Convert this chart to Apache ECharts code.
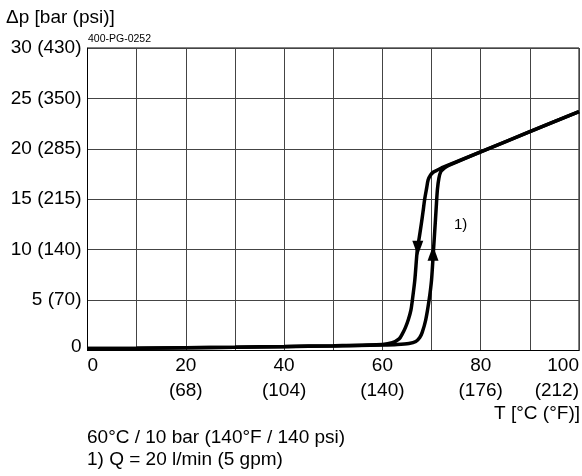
<!DOCTYPE html>
<html>
<head>
<meta charset="utf-8">
<script src="https://cdn.jsdelivr.net/npm/echarts@6/dist/echarts.min.js"></script>
<style>
html,body{margin:0;padding:0;background:#fff;}
#chart{width:582px;height:476px;}
</style>
</head>
<body>
<div id="chart"></div>
<script>
// Temperature ticks (°C) and Fahrenheit labels
const tempTicks = [0, 20, 40, 60, 80, 100];
const tempF = ['', '(68)', '(104)', '(140)', '(176)', '(212)'];
// Pressure ticks (bar) and psi labels
const pressTicks = [0, 5, 10, 15, 20, 25, 30];
const pressPsi = ['', '(70)', '(140)', '(215)', '(285)', '(350)', '(430)'];

// Heating curve (rising, arrow up) [T °C, Δp bar]
const heating = [
  [0, 0.2], [10, 0.22], [20, 0.27], [30, 0.32], [40, 0.38], [50, 0.45], [60, 0.55],
  [63, 0.6], [65.4, 0.7], [66.8, 0.9], [67.6, 1.3], [68.1, 1.8], [68.8, 3.0], [69.5, 5.0],
  [70.0, 7.0], [70.4, 10.0], [70.8, 13.0], [71.0, 14.6], [71.2, 16.0], [71.5, 17.1],
  [71.9, 17.75], [72.6, 18.1], [73.5, 18.35], [80, 19.7], [90, 21.7], [100, 23.7]
];
// Cooling curve (falling, arrow down) [T °C, Δp bar]
const cooling = [
  [100, 23.7], [90, 21.7], [80, 19.7], [72, 18.1], [71.2, 17.9], [70.4, 17.7],
  [69.8, 17.4], [69.3, 16.9], [69.0, 16.1], [68.6, 15.0], [68.25, 13.7], [67.9, 12.5],
  [67.5, 11.2], [67.1, 10.0], [66.6, 7.0], [66.1, 5.0], [65.8, 4.0], [65.3, 3.1],
  [64.7, 2.3], [64.0, 1.6], [63.4, 1.15], [62.0, 0.77], [60, 0.6], [50, 0.48], [40, 0.4],
  [30, 0.33], [20, 0.27], [10, 0.22], [0, 0.2]
];
// Direction arrows [T, Δp]
const arrowDown = [67.2, 10.15];
const arrowUp = [70.3, 9.65];
// Curve annotation
const noteLabel = { text: '1)', at: [75.9, 12.5] };

const FONT = "'Liberation Sans', Arial, sans-serif";

const chart = echarts.init(document.getElementById('chart'), null, {renderer: 'canvas'});
chart.setOption({
  backgroundColor: '#fff',
  animation: false,
  textStyle: {fontFamily: FONT},
  grid: {left: 87.5, right: 2, top: 48, bottom: 125.5, show: true, borderColor: '#000', borderWidth: 1, backgroundColor: 'transparent'},
  xAxis: {
    type: 'value', min: 0, max: 100, interval: 10,
    axisLine: {show: true, lineStyle: {color: '#000', width: 1}},
    axisTick: {show: false},
    splitLine: {show: true, lineStyle: {color: '#444', width: 1}},
    axisLabel: {
      show: true, color: '#000', fontSize: 19, fontFamily: FONT, lineHeight: 25, margin: 3,
      alignMinLabel: 'left', alignMaxLabel: 'right', hideOverlap: false,
      formatter: function (v) {
        const i = tempTicks.indexOf(v);
        if (i < 0) return '';
        return tempF[i] ? v + '\n' + tempF[i] : String(v);
      }
    }
  },
  yAxis: {
    type: 'value', min: 0, max: 30, interval: 5,
    axisLine: {show: true, lineStyle: {color: '#000', width: 1}},
    axisTick: {show: false},
    splitLine: {show: true, lineStyle: {color: '#444', width: 1}},
    axisLabel: {
      show: true, color: '#000', fontSize: 19, fontFamily: FONT, margin: 6,
      formatter: function (v) {
        const i = pressTicks.indexOf(v);
        if (i < 0) return '';
        if (v === 0) return '{z|0}';
        return v + ' ' + pressPsi[i];
      },
      rich: {z: {fontSize: 19, fontFamily: FONT, color: '#000', padding: [0, 0, 7, 0]}}
    }
  },
  series: [
    {
      type: 'line', data: heating, showSymbol: false, smooth: 0.25, z: 5,
      lineStyle: {color: '#000', width: 3.5},
      markPoint: {
        symbol: 'triangle', symbolSize: [11, 15], silent: true,
        itemStyle: {color: '#000'}, label: {show: false},
        data: [{coord: arrowUp}]
      }
    },
    {
      type: 'line', data: cooling, showSymbol: false, smooth: 0.25, z: 5,
      lineStyle: {color: '#000', width: 3.5},
      markPoint: {
        symbol: 'triangle', symbolSize: [11, 15], symbolRotate: 180, silent: true,
        itemStyle: {color: '#000'}, label: {show: false},
        data: [{coord: arrowDown}]
      }
    },
    {
      type: 'line', data: [], silent: true,
      markPoint: {
        symbol: 'circle', symbolSize: 0,
        label: {show: true, position: 'inside', formatter: noteLabel.text, color: '#000', fontSize: 15, fontFamily: FONT},
        data: [{coord: noteLabel.at}]
      }
    }
  ],
  graphic: [
    {type: 'text', left: 6, top: 8, style: {text: 'Δp [bar (psi)]', font: '19px ' + FONT, fill: '#000'}},
    {type: 'text', left: 88, top: 34, style: {text: '400-PG-0252', font: '10.5px ' + FONT, fill: '#000'}},
    {type: 'text', right: 2, top: 404, style: {text: 'T [°C (°F)]', font: '19px ' + FONT, fill: '#000', align: 'right'}},
    {type: 'text', left: 87, top: 428, style: {text: '60°C / 10 bar (140°F / 140 psi)', font: '19px ' + FONT, fill: '#000'}},
    {type: 'text', left: 87, top: 450, style: {text: '1) Q = 20 l/min (5 gpm)', font: '19px ' + FONT, fill: '#000'}}
  ]
});
</script>
</body>
</html>
